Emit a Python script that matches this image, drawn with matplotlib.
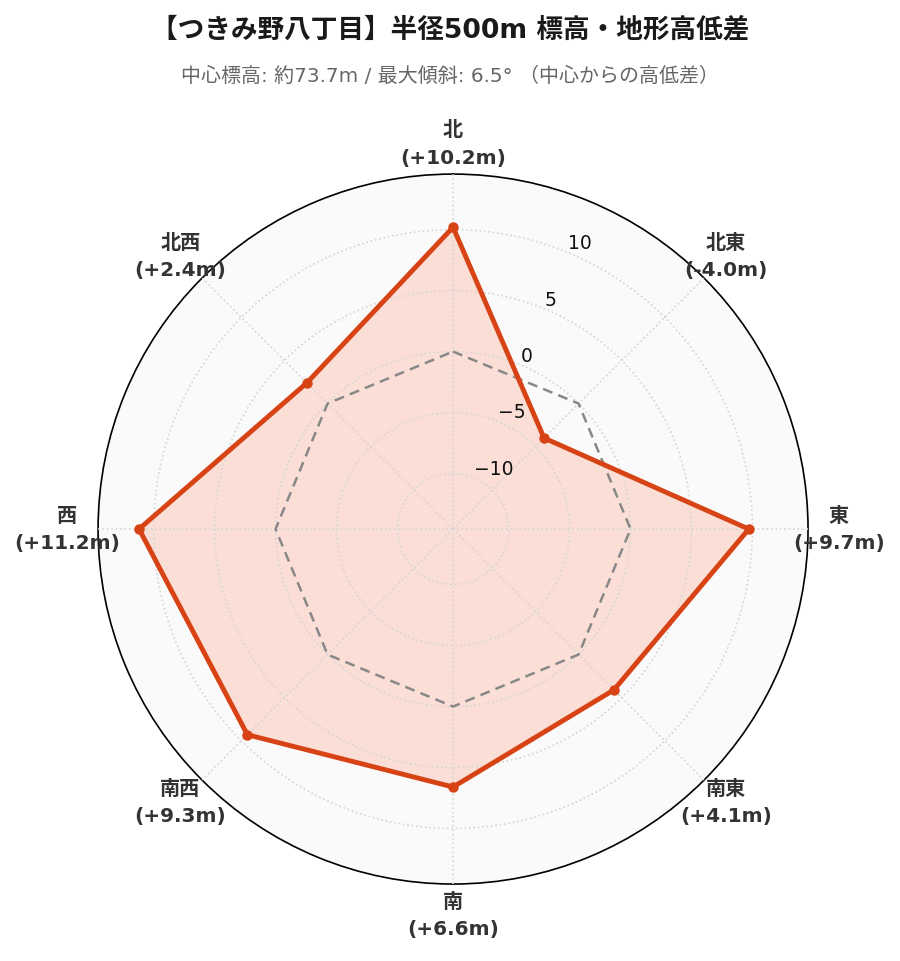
import numpy as np
import matplotlib
matplotlib.use("Agg")
import matplotlib.pyplot as plt

directions = ["北", "北東", "東", "南東", "南", "南西", "西", "北西"]
diffs = [10.2, -4.0, 9.7, 4.1, 6.6, 9.3, 11.2, 2.4]
rticks = [-10, -5, 0, 5, 10]
title = "【つきみ野八丁目】半径500m 標高・地形高低差"
subtitle = "中心標高: 約73.7m / 最大傾斜: 6.5° （中心からの高低差）"

plt.rcParams['font.family'] = ['DejaVu Sans', 'Noto Sans CJK JP']

fig = plt.figure(figsize=(9, 9.62), dpi=100)
ax = fig.add_axes([0.1089, 0.080, 0.789, 0.738], projection='polar')
ax.set_theta_zero_location('N')
ax.set_theta_direction(-1)
ax.set_axisbelow(False)

n = len(directions)
theta = np.arange(n) * 2 * np.pi / n
tc = np.concatenate([theta, theta[:1]])
vc = np.concatenate([diffs, diffs[:1]])

lim = max(abs(v) for v in diffs) * 1.3
ax.set_ylim(-lim, lim)
ax.set_facecolor('#fafafa')

ax.fill(tc, vc, color='#fcd9cf', alpha=0.8, zorder=2)
ax.plot(tc, np.zeros_like(tc), color='#888888', lw=1.8, ls=(0, (4, 2.5)), zorder=3)
ax.plot(tc, vc, color='#d84315', lw=3.5, zorder=4)
ax.plot(theta, diffs, 'o', color='#d84315', ms=6.5, zorder=5)

ax.set_xticks(theta)
ax.set_xticklabels([f"{d}\n({v:+.1f}m)" for d, v in zip(directions, diffs)],
                   fontsize=14.5, fontweight='bold', color='#333333', linespacing=1.55)
ax.tick_params(axis='x', pad=11.6)
ax.set_yticks(rticks)
ax.set_yticklabels([f"{t}".replace('-', '\u2212') for t in rticks], fontsize=13.5, color='#111111')
ax.set_rlabel_position(22.5)
ax.grid(True, color='#d5d5d5', ls=':', lw=1.2)
ax.spines['polar'].set_color('black')
ax.spines['polar'].set_linewidth(1.2)

fig.text(0.5, 0.968, title, ha='center', va='center', fontsize=19.2, fontweight='bold',
         color='#1a1a1a')
fig.text(0.5, 0.921, subtitle, ha='center', va='center', fontsize=14.4,
         color='#666666')

fig.savefig('out.png', dpi=100, facecolor='white')
